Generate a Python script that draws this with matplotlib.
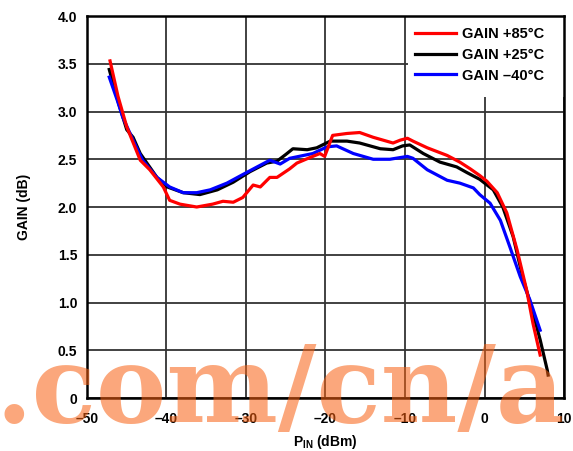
import matplotlib
matplotlib.use("Agg")
import matplotlib.pyplot as plt
from matplotlib.patches import Rectangle

# gain vs input power
x_85 = [-47.1, -46.1, -45.0, -43.3, -42.1, -40.4, -39.6, -38.3, -36.2, -34.2, -32.9, -31.6,
        -30.4, -29.1, -28.2, -27.0, -26.1, -24.5, -23.6, -21.9, -20.7, -20.1, -19.1, -17.3,
        -15.7, -14.0, -11.5, -10.6, -9.7, -9.0, -7.2, -4.7, -3.1, -1.8, -0.6, 0.3, 1.6,
        2.8, 4.1, 5.3, 6.1, 7.0]
gain_85 = [3.53, 3.16, 2.84, 2.49, 2.39, 2.21, 2.07, 2.03, 2.00, 2.03, 2.06, 2.05,
           2.10, 2.23, 2.21, 2.31, 2.31, 2.40, 2.46, 2.52, 2.56, 2.53, 2.75, 2.77,
           2.78, 2.73, 2.67, 2.70, 2.72, 2.69, 2.62, 2.54, 2.47, 2.40, 2.33, 2.27, 2.15,
           1.94, 1.55, 1.13, 0.78, 0.45]

x_25 = [-47.2, -46.0, -45.0, -44.2, -43.3, -41.2, -39.9, -37.9, -35.8, -33.6, -31.6, -29.5,
        -27.4, -26.1, -25.0, -24.1, -22.3, -21.1, -19.4, -17.3, -15.7, -13.1, -11.5, -10.3,
        -9.4, -7.7, -5.6, -3.5, -2.2, -0.6, 1.1, 2.3, 3.6, 4.8, 6.1, 7.0, 7.9, 8.0]
gain_25 = [3.44, 3.08, 2.81, 2.73, 2.56, 2.31, 2.21, 2.15, 2.13, 2.18, 2.26, 2.37,
           2.46, 2.48, 2.55, 2.61, 2.60, 2.62, 2.69, 2.69, 2.67, 2.61, 2.60, 2.64,
           2.65, 2.56, 2.47, 2.42, 2.36, 2.29, 2.18, 2.00, 1.69, 1.27, 0.89, 0.61, 0.29, 0.24]

x_m40 = [-47.2, -46.2, -45.5, -44.2, -43.0, -41.2, -39.6, -37.9, -36.2, -34.5, -32.4, -30.4,
         -28.6, -27.0, -25.7, -24.5, -21.6, -19.8, -18.6, -16.5, -14.0, -11.9, -9.7, -9.0,
         -7.2, -4.7, -3.1, -1.4, -0.6, 0.7, 2.0, 3.2, 4.5, 5.7, 7.0]
gain_m40 = [3.36, 3.12, 2.94, 2.70, 2.49, 2.31, 2.21, 2.15, 2.15, 2.18, 2.25, 2.34,
            2.42, 2.49, 2.45, 2.51, 2.56, 2.63, 2.64, 2.56, 2.50, 2.50, 2.53, 2.51,
            2.39, 2.28, 2.25, 2.20, 2.13, 2.04, 1.86, 1.58, 1.27, 1.03, 0.71]

x_ticks = [-50, -40, -30, -20, -10, 0, 10]
x_labels = ["\u201350", "\u201340", "\u201330", "\u201320", "\u201310", "0", "10"]
y_ticks = [0, 0.5, 1.0, 1.5, 2.0, 2.5, 3.0, 3.5, 4.0]
y_labels = ["0", "0.5", "1.0", "1.5", "2.0", "2.5", "3.0", "3.5", "4.0"]

plt.rcParams["font.family"] = "Liberation Sans"
plt.rcParams["font.weight"] = "bold"
plt.rcParams["mathtext.fontset"] = "custom"
plt.rcParams["mathtext.rm"] = "Liberation Sans:bold"
plt.rcParams["mathtext.bf"] = "Liberation Sans:bold"

fig = plt.figure(figsize=(5.73, 4.51), dpi=100)
ax = fig.add_axes([0.1518, 0.1175, 0.8325, 0.847])

ax.plot(x_85, gain_85, color="#ff0000", lw=2.3, label="GAIN +85\u00b0C", zorder=4)
ax.plot(x_25, gain_25, color="#000000", lw=2.3, label="GAIN +25\u00b0C", zorder=3)
ax.plot(x_m40, gain_m40, color="#0000ff", lw=2.3, label="GAIN \u201340\u00b0C", zorder=3.5)

ax.set_xlim(-50, 10)
ax.set_ylim(0, 4.0)
ax.set_xticks(x_ticks)
ax.set_xticklabels(x_labels)
ax.set_yticks(y_ticks)
ax.set_yticklabels(y_labels)
ax.tick_params(axis="both", length=0, labelsize=10)
ax.tick_params(axis="x", pad=10)
ax.tick_params(axis="y", pad=7)
ax.grid(True, color="#333333", lw=1.3)
for s in ax.spines.values():
    s.set_linewidth(1.8)

ax.set_xlabel(r"P$_{\rm IN}$ (dBm)", fontsize=10, fontweight="bold", labelpad=5)
ax.set_ylabel("GAIN (dB)", fontsize=10, fontweight="bold", labelpad=19)

# white box behind the legend
ax.add_patch(Rectangle((0.673, 0.788), 0.327, 0.212, transform=ax.transAxes,
                       facecolor="white", edgecolor="none", zorder=2.5))
leg = ax.legend(loc="upper left", bbox_to_anchor=(0.688, 0.970), frameon=False,
                fontsize=10.5, handlelength=2.8, handletextpad=0.4,
                labelspacing=0.45, borderpad=0, borderaxespad=0)
leg.set_zorder(5)

# watermark
fig.text(-0.008, 0.064, ".com/cn/a", fontfamily="DejaVu Serif", fontweight="bold",
         fontsize=76, color="#f86010", alpha=0.55, ha="left", va="baseline")

fig.savefig("out.png", dpi=100)
